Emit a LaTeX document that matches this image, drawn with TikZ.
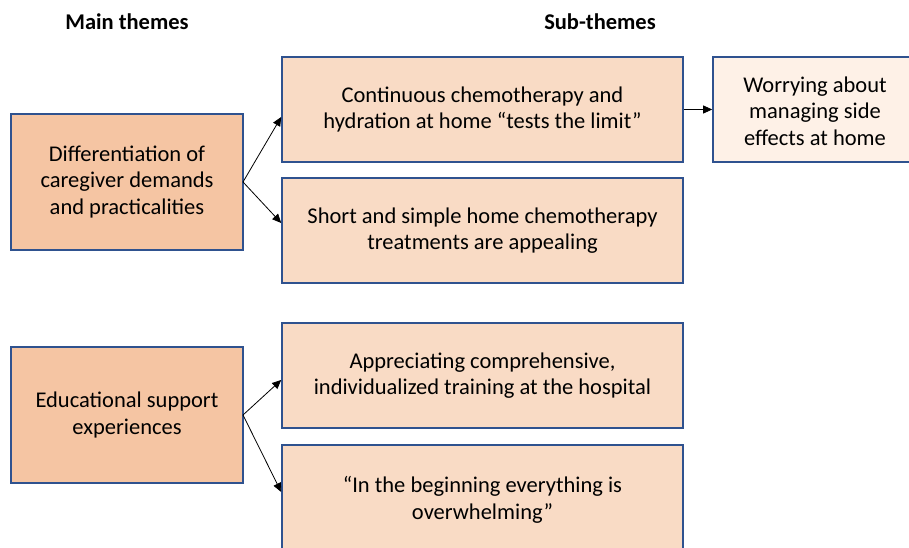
\documentclass[tikz,border=0pt]{standalone}
\usepackage{fontspec}
\setmainfont{Carlito}
\usetikzlibrary{arrows.meta}
\definecolor{mainfill}{HTML}{F5C5A3}
\definecolor{subfill}{HTML}{F9DBC5}
\definecolor{palefill}{HTML}{FEF1E7}
\definecolor{edgeblue}{HTML}{2F528F}
\tikzset{
  txt/.style={align=center, font=\fontsize{22.5bp}{26.5bp}\selectfont},
  boxbase/.style={txt, draw=edgeblue, line width=1.6bp, inner sep=0pt},
  mainbox/.style={boxbase, fill=mainfill},
  subbox/.style={boxbase, fill=subfill},
  palebox/.style={boxbase, fill=palefill},
  header/.style={font=\fontsize{22.5bp}{26bp}\selectfont\bfseries},
  link/.style={-{Triangle[length=9bp,width=8bp]}, line width=0.8bp, black}
}
\begin{document}
\begin{tikzpicture}[x=1bp,y=-1bp]
\useasboundingbox (0,0) rectangle (909,548);
\begin{scope}
\clip (0,0) rectangle (909,548);
\node[header] (h1) at (127,22) {Main themes};
\node[header] (h2) at (600,22) {Sub-themes};

\node[mainbox, minimum width=232bp, minimum height=136bp] (m1) at (127,182) {Differentiation of\\caregiver demands\\and practicalities};
\node[subbox, minimum width=401bp, minimum height=105bp] (s1) at (482.5,109.5) {Continuous chemotherapy and\\hydration at home “tests the limit”};
\node[subbox, minimum width=401bp, minimum height=105bp] (s2) at (482.5,230.5) {Short and simple home chemotherapy\\treatments are appealing};
\node[palebox, minimum width=202bp, minimum height=105bp] (w) at (814,109.5) {};
\node[txt] (wt) at (815,111) {Worrying about\\managing side\\effects at home};

\node[mainbox, minimum width=232bp, minimum height=136bp] (m2) at (127,415) {Educational support\\experiences};
\node[subbox, minimum width=401bp, minimum height=105bp] (s3) at (482.5,375.5) {Appreciating comprehensive,\\individualized training at the hospital};
\node[subbox, minimum width=401bp, minimum height=120bp] (s4) at (482.5,505) {};
\node[txt] (s4t) at (482.5,500) {“In the beginning everything is\\overwhelming”};

\coordinate (m1o) at (243,182);
\coordinate (m2o) at (243,415);
\draw[link] (m1o) -- (s1.west |- 0,117);
\draw[link] (m1o) -- (s2.west |- 0,223);
\draw[link] (s1.east) -- (w.west);
\draw[link] (m2o) -- (s3.west |- 0,380);
\draw[link] (m2o) -- (s4.west |- 0,492);
\end{scope}
\end{tikzpicture}
\end{document}
